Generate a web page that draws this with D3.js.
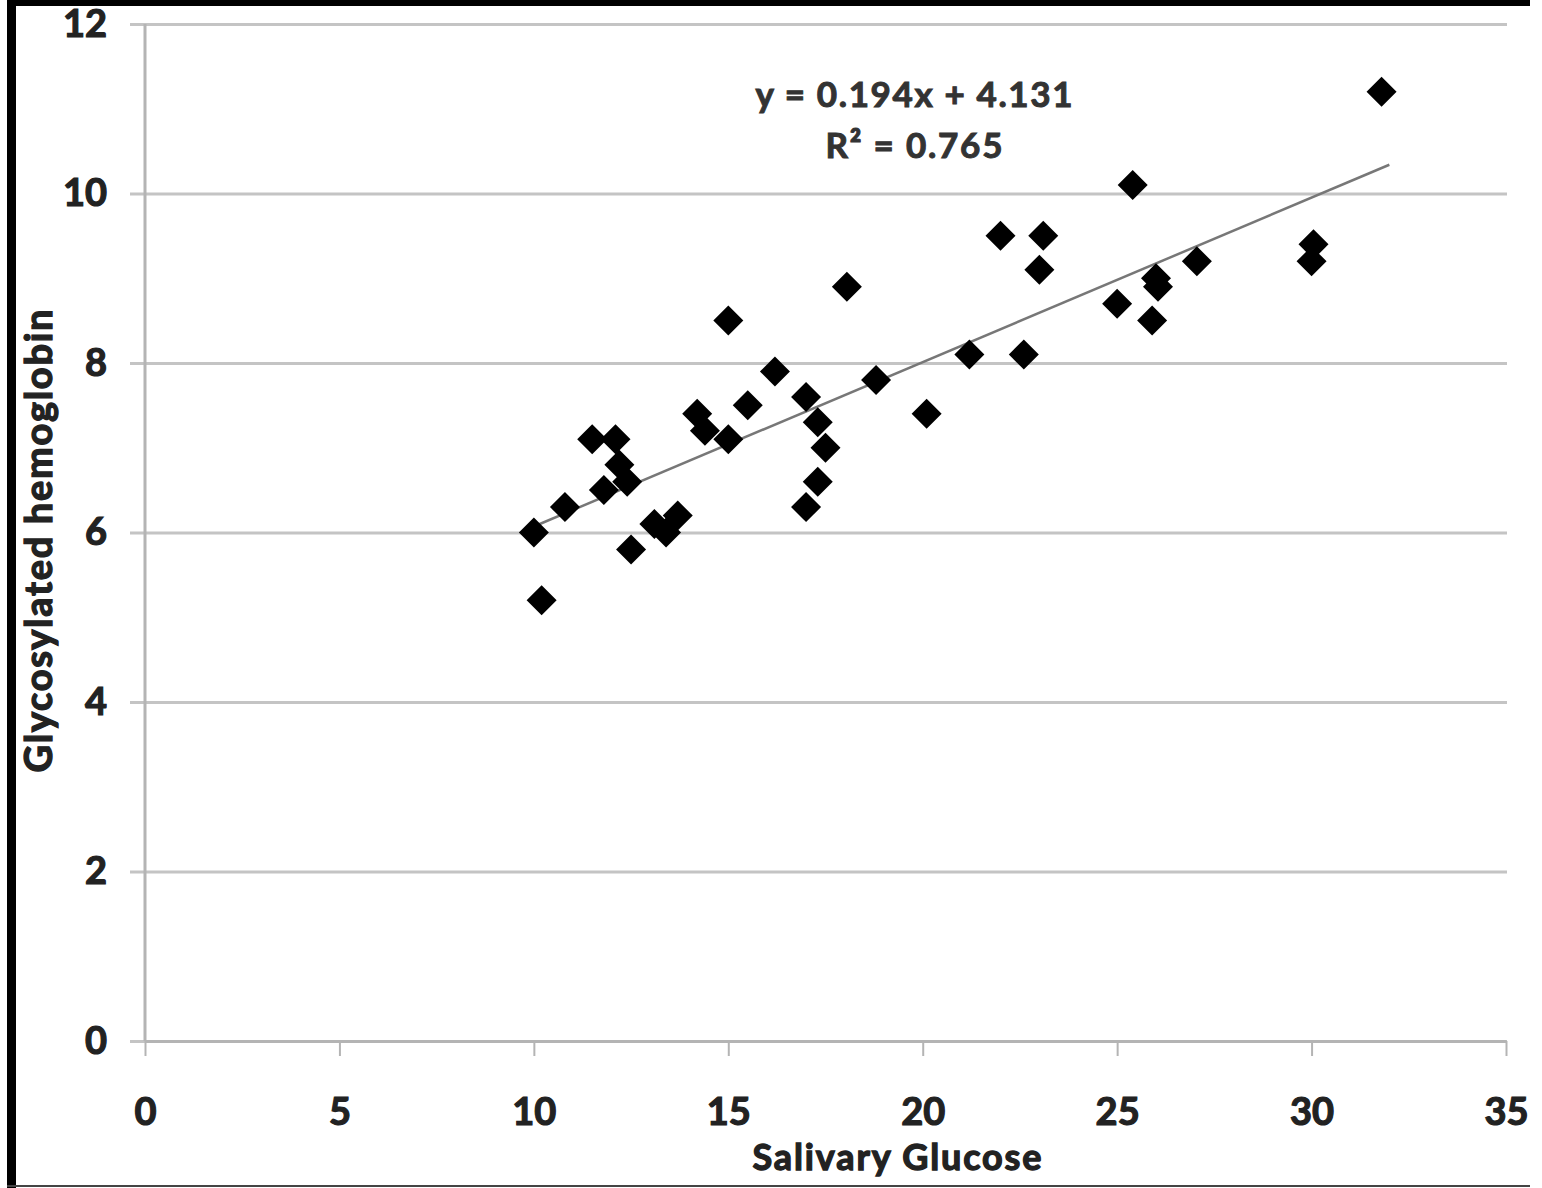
<html>
  <meta charset="utf-8" />
  <script src="https://d3js.org/d3.v7.min.js"></script>
  <style>
    body { margin: 0; background: #fff; }
    text { font-family: Lato, "Open Sans", sans-serif; font-weight: 700; }
  </style>
  <body>
    <svg width="1542" height="1188" id="chart"></svg>
    <script>
      // salivary glucose (x) vs glycosylated hemoglobin (y)
      const salivaryGlucose = [
        31.8, 25.4, 22.0, 23.1, 23.0, 30.05, 30.0, 27.05, 26.0, 26.05,
        25.9, 25.0, 18.05, 15.0, 21.2, 22.6, 16.2, 18.8, 17.0, 15.5,
        14.2, 20.1, 17.3, 14.4, 11.5, 12.1, 15.0, 17.5, 12.2, 12.4,
        11.8, 17.3, 10.8, 17.0, 10.0, 13.7, 13.1, 13.4, 12.5, 10.2
      ];
      const hemoglobin = [
        11.2, 10.1, 9.5, 9.5, 9.1, 9.4, 9.2, 9.2, 9.0, 8.9,
        8.5, 8.7, 8.9, 8.5, 8.1, 8.1, 7.9, 7.8, 7.6, 7.5,
        7.4, 7.4, 7.3, 7.2, 7.1, 7.1, 7.1, 7.0, 6.8, 6.6,
        6.5, 6.6, 6.3, 6.3, 6.0, 6.2, 6.1, 6.0, 5.8, 5.2
      ];
      const xTicks = [0, 5, 10, 15, 20, 25, 30, 35];
      const yTicks = [0, 2, 4, 6, 8, 10, 12];
      const slope = 0.194;
      const intercept = 4.131;
      const trendRange = [10, 32];
      const equationLines = ["y = 0.194x + 4.131", "R\u00b2 = 0.765"];

      const svg = d3.select("#chart");
      const x = d3.scaleLinear().domain([0, 35]).range([145, 1506]);
      const y = d3.scaleLinear().domain([0, 12]).range([1041, 24]);

      // page frame
      svg.append("rect").attr("x", 7).attr("y", 0).attr("width", 9).attr("height", 1188).attr("fill", "#000");
      svg.append("rect").attr("x", 7).attr("y", 0).attr("width", 1523).attr("height", 6).attr("fill", "#000");
      svg.append("rect").attr("x", 7).attr("y", 1185).attr("width", 1523).attr("height", 2).attr("fill", "#444");

      // horizontal gridlines + y labels
      const yAxis = svg
        .append("g")
        .attr("transform", "translate(130,0)")
        .call(
          d3.axisLeft(y).tickValues(yTicks).tickSize(-1377).tickPadding(23).tickFormat(d3.format("d"))
        );
      yAxis.select(".domain").remove();
      yAxis.selectAll(".tick line").attr("stroke", "#c4c4c4").attr("stroke-width", 3);
      yAxis.selectAll(".tick text").attr("font-size", 38).attr("fill", "#222")
        .attr("stroke", "#222").attr("stroke-width", 1.2);

      // vertical axis line
      svg.append("line")
        .attr("x1", x(0)).attr("x2", x(0))
        .attr("y1", y(12)).attr("y2", y(0))
        .attr("stroke", "#b4b4b4").attr("stroke-width", 3);

      const xAxis = svg
        .append("g")
        .attr("transform", `translate(0,${y(0)})`)
        .call(d3.axisBottom(x).tickValues(xTicks).tickSize(15).tickSizeOuter(0).tickPadding(42));
      xAxis.select(".domain").attr("stroke", "#b4b4b4").attr("stroke-width", 3);
      xAxis.selectAll(".tick line").attr("stroke", "#b4b4b4").attr("stroke-width", 2);
      xAxis.selectAll(".tick text").attr("font-size", 38).attr("fill", "#222")
        .attr("stroke", "#222").attr("stroke-width", 1.2);

      // trendline
      svg.append("line")
        .attr("x1", x(trendRange[0])).attr("y1", y(slope * trendRange[0] + intercept))
        .attr("x2", x(trendRange[1])).attr("y2", y(slope * trendRange[1] + intercept))
        .attr("stroke", "#777").attr("stroke-width", 2.5);

      // points
      const pts = salivaryGlucose.map((v, i) => [v, hemoglobin[i]]);
      svg.append("g")
        .selectAll("path")
        .data(pts)
        .join("path")
        .attr("d", d3.symbol(d3.symbolSquare, 450))
        .attr("transform", (d) => `translate(${x(d[0])},${y(d[1])}) rotate(45)`)
        .attr("fill", "#000");

      // equation
      const eqWidths = [317, 177];
      svg.append("g")
        .selectAll("text")
        .data(equationLines)
        .join("text")
        .attr("x", 914)
        .attr("y", (d, i) => 107 + i * 51)
        .attr("text-anchor", "middle")
        .attr("font-size", 35)
        .attr("textLength", (d, i) => eqWidths[i])
        .attr("fill", "#333")
        .attr("stroke", "#333")
        .attr("stroke-width", 1)
        .text((d) => d);

      svg.append("text")
        .attr("x", 897)
        .attr("y", 1170)
        .attr("text-anchor", "middle")
        .attr("font-size", 36)
        .attr("textLength", 289)
        .attr("fill", "#222")
        .attr("stroke", "#222")
        .attr("stroke-width", 1.3)
        .text("Salivary Glucose");

      svg.append("text")
        .attr("transform", "translate(52,541) rotate(-90)")
        .attr("text-anchor", "middle")
        .attr("font-size", 38)
        .attr("textLength", 463)
        .attr("fill", "#222")
        .attr("stroke", "#222")
        .attr("stroke-width", 1.3)
        .text("Glycosylated hemoglobin");
    </script>
  </body>
</html>
